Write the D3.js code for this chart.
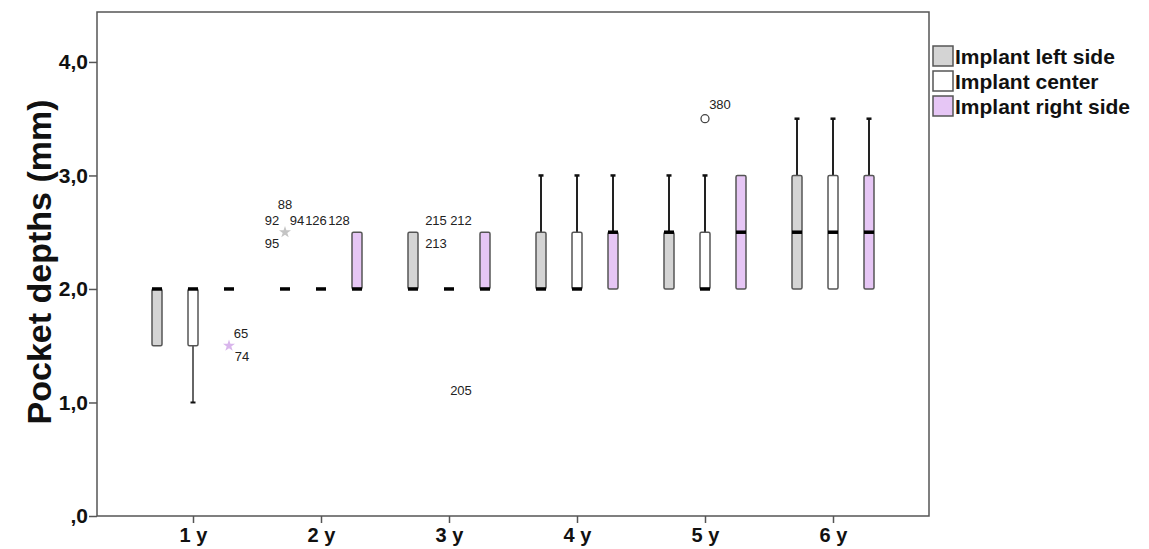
<!DOCTYPE html>
<html>
<head>
<meta charset="utf-8">
<script src="https://cdn.jsdelivr.net/npm/d3@7"></script>
<style>
  body { margin: 0; background: #fff; }
  svg { font-family: Arial, "Liberation Sans", sans-serif; }
</style>
</head>
<body>
<svg width="1149" height="549"></svg>
<script>
const width = 1149, height = 549;
const svg = d3.select("svg");

// categories and series
const years = ["1 y", "2 y", "3 y", "4 y", "5 y", "6 y"];
const seriesNames = ["Implant left side", "Implant center", "Implant right side"];
const seriesColors = ["#d4d4d4", "#ffffff", "#e6c6f5"];
const yTicks = [0, 1, 2, 3, 4];

// box statistics per series (one value per year)
const leftQ1   = [1.5, 2.0, 2.0, 2.0, 2.0, 2.0];
const leftMed  = [2.0, 2.0, 2.0, 2.0, 2.5, 2.5];
const leftQ3   = [2.0, 2.0, 2.5, 2.5, 2.5, 3.0];
const leftLow  = [1.5, 2.0, 2.0, 2.0, 2.0, 2.0];
const leftHigh = [2.0, 2.0, 2.5, 3.0, 3.0, 3.5];

const centerQ1   = [1.5, 2.0, 2.0, 2.0, 2.0, 2.0];
const centerMed  = [2.0, 2.0, 2.0, 2.0, 2.0, 2.5];
const centerQ3   = [2.0, 2.0, 2.0, 2.5, 2.5, 3.0];
const centerLow  = [1.0, 2.0, 2.0, 2.0, 2.0, 2.0];
const centerHigh = [2.0, 2.0, 2.0, 3.0, 3.0, 3.5];

const rightQ1   = [2.0, 2.0, 2.0, 2.0, 2.0, 2.0];
const rightMed  = [2.0, 2.0, 2.0, 2.5, 2.5, 2.5];
const rightQ3   = [2.0, 2.5, 2.5, 2.5, 3.0, 3.0];
const rightLow  = [2.0, 2.0, 2.0, 2.0, 2.0, 2.0];
const rightHigh = [2.0, 2.5, 2.5, 3.0, 3.0, 3.5];

// outliers: year, series index, value, kind, case ids
const outlierYears  = ["1 y", "2 y", "2 y", "3 y", "3 y", "5 y"];
const outlierSeries = [2, 0, 1, 1, 1, 1];
const outlierValues = [1.5, 2.5, 2.5, 2.5, 1.0, 3.5];
const outlierKinds  = ["star", "star", "star", "star", "star", "circle"];
const outlierIds    = [["65", "74"], ["88", "92", "94", "95"], ["126", "128"],
                       ["215", "212", "213"], ["205"], ["380"]];

// where each case label goes around its point
const labelSlots = [["ur", "lr"], ["top", "ul", "ur", "ll"], ["um", "ur2"],
                    ["ul", "ur", "ll"], ["ur"], ["ur3"]];
const slotOffset = {
    top: [0, -28], ul: [-13, -12], ur: [12, -12], ll: [-13, 11], lr: [13, 11],
    um: [-5, -12], ur2: [18, -12], ur3: [15, -14]
};
const starColors = ["#d9b6ec", "#c4c4c4", "#ffffff", "#ffffff", "#ffffff"];

const stats = [
    { q1: leftQ1, med: leftMed, q3: leftQ3, lo: leftLow, hi: leftHigh },
    { q1: centerQ1, med: centerMed, q3: centerQ3, lo: centerLow, hi: centerHigh },
    { q1: rightQ1, med: rightMed, q3: rightQ3, lo: rightLow, hi: rightHigh }
];

const plot = { left: 97, right: 929, top: 12, bottom: 516 };

const xScale = d3.scalePoint().domain(years).range([plot.left, plot.right]).padding(0.75);
const subScale = d3.scalePoint().domain(d3.range(3)).range([-36, 36]);
const yScale = d3.scaleLinear().domain([0, 4.44]).range([plot.bottom, plot.top]);
const boxW = 10;

// frame
svg.append("rect")
    .attr("x", plot.left).attr("y", plot.top)
    .attr("width", plot.right - plot.left).attr("height", plot.bottom - plot.top)
    .attr("fill", "none").attr("stroke", "#555").attr("stroke-width", 1.5);

// y axis
const yAxis = svg.append("g")
    .attr("transform", `translate(${plot.left},0)`)
    .call(d3.axisLeft(yScale).tickValues(yTicks).tickSize(8).tickPadding(1)
        .tickFormat(d => d === 0 ? ",0" : d.toFixed(1).replace(".", ",")));
yAxis.select(".domain").remove();
yAxis.selectAll(".tick line").attr("stroke", "#555").attr("stroke-width", 1.5);
yAxis.selectAll(".tick text")
    .attr("fill", "#111").style("font-size", "21px").style("font-weight", "bold")
    .style("font-family", "Arial, 'Liberation Sans', sans-serif");

// x axis
const xAxis = svg.append("g")
    .attr("transform", `translate(0,${plot.bottom})`)
    .call(d3.axisBottom(xScale).tickSize(7).tickPadding(5));
xAxis.select(".domain").remove();
xAxis.selectAll(".tick line").attr("stroke", "#555").attr("stroke-width", 1.5);
xAxis.selectAll(".tick text")
    .attr("fill", "#111").style("font-size", "20px").style("font-weight", "bold")
    .style("font-family", "Arial, 'Liberation Sans', sans-serif");

// y title
svg.append("text")
    .attr("transform", `translate(39,${(yScale(0) + yScale(4)) / 2 - 27}) rotate(-90)`)
    .attr("text-anchor", "middle")
    .attr("dy", "0.35em")
    .style("font-size", "34px")
    .style("font-weight", "bold")
    .attr("fill", "#111")
    .text("Pocket depths (mm)");

// boxes
stats.forEach((s, si) => {
    years.forEach((yr, i) => {
        const cx = xScale(yr) + subScale(si);
        const g = svg.append("g");
        // whiskers
        if (s.hi[i] > s.q3[i]) {
            g.append("line").attr("x1", cx).attr("x2", cx)
                .attr("y1", yScale(s.q3[i])).attr("y2", yScale(s.hi[i]))
                .attr("stroke", "#222").attr("stroke-width", 2);
            g.append("line").attr("x1", cx - 2.5).attr("x2", cx + 2.5)
                .attr("y1", yScale(s.hi[i])).attr("y2", yScale(s.hi[i]))
                .attr("stroke", "#111").attr("stroke-width", 2.5);
        }
        if (s.lo[i] < s.q1[i]) {
            g.append("line").attr("x1", cx).attr("x2", cx)
                .attr("y1", yScale(s.q1[i])).attr("y2", yScale(s.lo[i]))
                .attr("stroke", "#333").attr("stroke-width", 1.5);
            g.append("line").attr("x1", cx - 2.5).attr("x2", cx + 2.5)
                .attr("y1", yScale(s.lo[i])).attr("y2", yScale(s.lo[i]))
                .attr("stroke", "#111").attr("stroke-width", 2);
        }
        // box
        if (s.q3[i] > s.q1[i]) {
            g.append("rect")
                .attr("x", cx - boxW / 2).attr("y", yScale(s.q3[i]))
                .attr("width", boxW).attr("height", yScale(s.q1[i]) - yScale(s.q3[i]))
                .attr("rx", 1.5)
                .attr("fill", seriesColors[si]).attr("stroke", "#555").attr("stroke-width", 1.5);
        }
        // median
        g.append("line")
            .attr("x1", cx - boxW / 2).attr("x2", cx + boxW / 2)
            .attr("y1", yScale(s.med[i])).attr("y2", yScale(s.med[i]))
            .attr("stroke", "#000").attr("stroke-width", 3.5);
    });
});

// outliers
const star = d3.symbol().type(d3.symbolStar).size(45);
outlierYears.forEach((yr, k) => {
    const si = outlierSeries[k];
    const px = xScale(yr) + subScale(si);
    const py = yScale(outlierValues[k]);
    if (outlierKinds[k] === "circle") {
        svg.append("circle").attr("cx", px).attr("cy", py).attr("r", 4)
            .attr("fill", "#fff").attr("stroke", "#444").attr("stroke-width", 1.3);
    } else {
        svg.append("path").attr("d", star())
            .attr("transform", `translate(${px},${py})`)
            .attr("fill", starColors[k]);
    }
    outlierIds[k].forEach((id, j) => {
        const off = slotOffset[labelSlots[k][j]];
        svg.append("text")
            .attr("x", px + off[0]).attr("y", py + off[1])
            .attr("text-anchor", "middle").attr("dy", "0.35em")
            .style("font-size", "13px").attr("fill", "#222")
            .text(id);
    });
});

// legend
const legend = svg.selectAll(".legend")
    .data(seriesNames)
    .enter().append("g")
    .attr("class", "legend")
    .attr("transform", (d, i) => `translate(933,${46 + i * 25})`);

legend.append("rect")
    .attr("width", 20).attr("height", 20)
    .attr("fill", (d, i) => seriesColors[i])
    .attr("stroke", "#555").attr("stroke-width", 1.5);

legend.append("text")
    .attr("x", 22).attr("y", 11).attr("dy", "0.35em")
    .style("font-size", "21px").style("font-weight", "bold").attr("fill", "#111")
    .text(d => d);
</script>
</body>
</html>
